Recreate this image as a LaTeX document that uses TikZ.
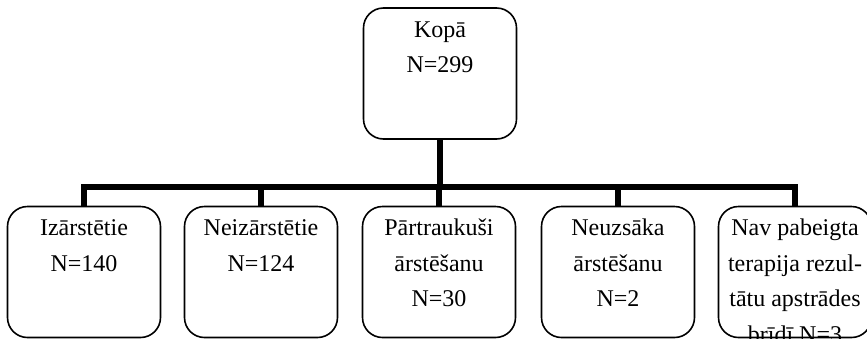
\documentclass[tikz,border=0pt]{standalone}
\usepackage{fontspec}
\setmainfont{Liberation Serif}
\begin{document}
\begin{tikzpicture}[x=1pt,y=-1pt,
  box/.style={draw=black, line width=1.6pt, rounded corners=20pt, minimum width=153pt, inner sep=0pt},
  lbl/.style={anchor=north, inner sep=0pt, align=center, font=\fontsize{24}{35.5}\selectfont},
  conn/.style={draw=black, line width=6pt, line join=miter}]
\useasboundingbox (0,0) rectangle (867,338);
\clip (0,0) rectangle (867,338);
\node[box, minimum height=131pt] (top) at (440,73.5) {};
\node[box, minimum height=131pt] (b1) at (84,272) {};
\node[box, minimum height=131pt] (b2) at (261,272) {};
\node[box, minimum height=131pt] (b3) at (439,272) {};
\node[box, minimum height=131pt] (b4) at (618,272) {};
\node[box, minimum height=131pt] (b5) at (795,272) {};
\node[lbl] (t0) at ([yshift=-13pt]top.north) {\rule{0pt}{17pt}Kopā\\N=299};
\node[lbl] (t1) at ([yshift=-13pt]b1.north) {\rule{0pt}{17pt}Izārstētie\\N=140};
\node[lbl] (t2) at ([yshift=-13pt]b2.north) {\rule{0pt}{17pt}Neizārstētie\\N=124};
\node[lbl] (t3) at ([yshift=-13pt]b3.north) {\rule{0pt}{17pt}Pārtraukuši\\ārstēšanu\\N=30};
\node[lbl] (t4) at ([yshift=-13pt]b4.north) {\rule{0pt}{17pt}Neuzsāka\\ārstēšanu\\N=2};
\node[lbl] (t5) at ([yshift=-13pt]b5.north) {\rule{0pt}{17pt}Nav pabeigta\\terapija rezul-\\tātu apstrādes\\brīdī N=3};
\coordinate (bus) at (440,187);
\draw[conn] (top.south) -- (bus);
\draw[conn] (b1.north) |- (bus) -| (b5.north);
\draw[conn] (b2.north) -- (b2.north |- bus);
\draw[conn] (b3.north) -- (b3.north |- bus);
\draw[conn] (b4.north) -- (b4.north |- bus);
\end{tikzpicture}
\end{document}
